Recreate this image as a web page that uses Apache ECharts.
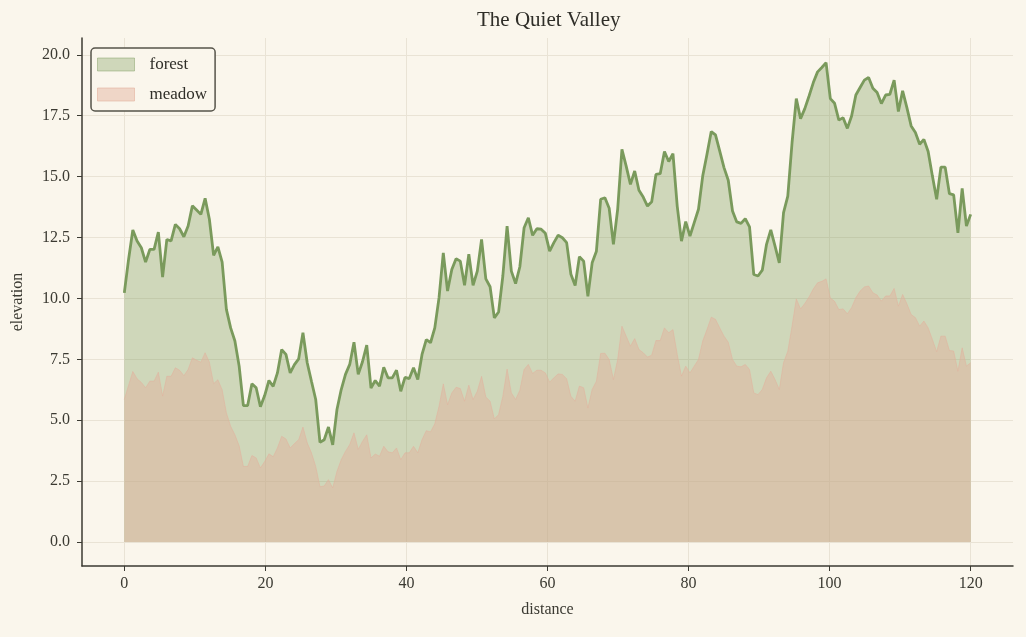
<!DOCTYPE html>
<html>
<head>
<meta charset="utf-8">
<title>The Quiet Valley</title>
<script src="https://cdn.jsdelivr.net/npm/echarts@6/dist/echarts.min.js"></script>
<style>
  html, body {
    margin: 0;
    padding: 0;
    background: #faf6ec;
  }
  #chart {
    width: 1026px;
    height: 637px;
  }
</style>
</head>
<body>
<div id="chart"></div>
<script>
// elevation profiles, 200 samples evenly spaced from 0 to 120
const forest = [
  10.23, 11.6, 12.81, 12.36, 12.08, 11.49, 12.01, 12.01, 12.72, 10.87,
  12.42, 12.36, 13.04, 12.86, 12.53, 12.97, 13.8, 13.63, 13.45, 14.11,
  13.25, 11.77, 12.12, 11.49, 9.55, 8.79, 8.25, 7.22, 5.6, 5.6,
  6.5, 6.33, 5.55, 6.01, 6.63, 6.39, 6.94, 7.9, 7.7, 6.94,
  7.28, 7.52, 8.59, 7.36, 6.6, 5.85, 4.09, 4.2, 4.72, 3.99,
  5.44, 6.26, 6.88, 7.29, 8.2, 6.88, 7.4, 8.08, 6.32, 6.63,
  6.4, 7.17, 6.74, 6.74, 7.05, 6.19, 6.76, 6.71, 7.15, 6.67,
  7.7, 8.31, 8.18, 8.79, 10.03, 11.87, 10.3, 11.19, 11.63, 11.53,
  10.54, 11.81, 10.54, 11.12, 12.42, 10.8, 10.48, 9.2, 9.44, 10.92,
  12.97, 11.12, 10.61, 11.3, 12.9, 13.31, 12.59, 12.86, 12.84, 12.67,
  11.94, 12.29, 12.59, 12.49, 12.29, 10.99, 10.53, 11.71, 11.53, 10.09,
  11.46, 11.94, 14.07, 14.13, 13.7, 12.22, 13.66, 16.12, 15.43, 14.68,
  15.23, 14.44, 14.16, 13.79, 13.97, 15.09, 15.12, 16.03, 15.62, 15.94,
  13.79, 12.35, 13.15, 12.56, 13.11, 13.66, 15.03, 15.92, 16.85, 16.71,
  16.05, 15.37, 14.85, 13.59, 13.14, 13.08, 13.27, 12.94, 10.98, 10.92,
  11.16, 12.22, 12.81, 12.15, 11.46, 13.52, 14.2, 16.39, 18.2, 17.38,
  17.79, 18.31, 18.86, 19.3, 19.48, 19.68, 18.2, 18.01, 17.32, 17.42,
  16.98, 17.49, 18.35, 18.66, 18.96, 19.07, 18.63, 18.45, 18.0, 18.35,
  18.38, 18.96, 17.67, 18.52, 17.83, 17.08, 16.81, 16.33, 16.53, 16.03,
  15.02, 14.07, 15.39, 15.39, 14.3, 14.25, 12.69, 14.52, 12.97, 13.45
];

const meadow = [
  5.85, 6.43, 7.0, 6.7, 6.55, 6.33, 6.6, 6.6, 6.97, 5.99,
  6.8, 6.8, 7.15, 7.05, 6.83, 7.08, 7.56, 7.46, 7.38, 7.77,
  7.38, 6.5, 6.66, 6.25, 5.3, 4.75, 4.4, 3.95, 3.1, 3.1,
  3.55, 3.45, 3.04, 3.3, 3.62, 3.5, 3.86, 4.34, 4.23, 3.86,
  4.04, 4.2, 4.72, 4.07, 3.66, 3.1, 2.27, 2.3, 2.56, 2.22,
  2.9, 3.38, 3.72, 4.0, 4.48, 3.8, 4.13, 4.4, 3.45, 3.61,
  3.52, 3.93, 3.7, 3.66, 3.86, 3.38, 3.66, 3.66, 3.93, 3.66,
  4.2, 4.57, 4.52, 4.85, 5.57, 6.49, 5.64, 6.12, 6.35, 6.3,
  5.78, 6.44, 5.85, 6.19, 6.8, 5.95, 5.78, 5.05, 5.23, 5.98,
  7.1, 6.12, 5.85, 6.23, 7.08, 7.29, 6.92, 7.05, 7.05, 6.94,
  6.56, 6.74, 6.9, 6.88, 6.7, 5.98, 5.78, 6.4, 6.33, 5.5,
  6.26, 6.6, 7.74, 7.75, 7.49, 6.67, 7.49, 8.86, 8.45, 8.04,
  8.35, 7.9, 7.77, 7.59, 7.67, 8.27, 8.27, 8.79, 8.59, 8.72,
  7.7, 6.81, 7.22, 6.94, 7.22, 7.49, 8.25, 8.72, 9.23, 9.14,
  8.79, 8.45, 8.2, 7.49, 7.22, 7.19, 7.29, 7.08, 6.12, 6.05,
  6.26, 6.74, 7.01, 6.67, 6.26, 7.36, 7.83, 8.86, 9.98, 9.57,
  9.79, 10.06, 10.39, 10.64, 10.7, 10.8, 10.02, 9.88, 9.54, 9.57,
  9.37, 9.62, 10.03, 10.3, 10.47, 10.51, 10.23, 10.14, 9.89, 10.1,
  10.1, 10.41, 9.68, 10.16, 9.78, 9.34, 9.21, 8.86, 9.07, 8.79,
  8.31, 7.81, 8.45, 8.45, 7.86, 7.84, 7.01, 7.97, 7.22, 7.36
];

const distance = forest.map((_, i) => +(i * 120 / (forest.length - 1)).toFixed(3));

const xTicks = [0, 20, 40, 60, 80, 100, 120];
const yTicks = [0, 2.5, 5, 7.5, 10, 12.5, 15, 17.5, 20];

const FONT = '"Liberation Serif", "DejaVu Serif", serif';
const INK = '#3b3a32';
const GRID = '#e9e3d5';

const chart = echarts.init(document.getElementById('chart'));

const option = {
  backgroundColor: '#faf6ec',
  animation: false,
  textStyle: { fontFamily: FONT },
  title: {
    text: 'The Quiet Valley',
    left: 477,
    top: 10,
    padding: 0,
    textStyle: {
      fontFamily: FONT,
      fontSize: 21,
      fontWeight: 'normal',
      color: '#2f2e28'
    }
  },
  legend: {
    orient: 'vertical',
    left: 91,
    top: 48,
    padding: [8, 8, 8, 6],
    itemWidth: 37,
    itemHeight: 13,
    itemGap: 13,
    backgroundColor: '#faf6ec',
    borderColor: '#56544a',
    borderWidth: 1.5,
    borderRadius: 4,
    textStyle: {
      fontFamily: FONT,
      fontSize: 17,
      color: '#2f2e28',
      padding: [0, 0, 0, 10]
    },
    data: [
      {
        name: 'forest',
        icon: 'rect',
        itemStyle: {
          color: 'rgba(122,154,92,0.34)',
          borderColor: 'rgba(122,154,92,0.45)',
          borderWidth: 1
        }
      },
      {
        name: 'meadow',
        icon: 'rect',
        itemStyle: {
          color: 'rgba(227,176,156,0.45)',
          borderColor: 'rgba(227,176,156,0.6)',
          borderWidth: 1
        }
      }
    ]
  },
  grid: {
    left: 82,
    right: 13,
    top: 38,
    bottom: 71,
    containLabel: false
  },
  xAxis: {
    type: 'value',
    min: -6,
    max: 126,
    name: 'distance',
    nameLocation: 'middle',
    nameGap: 36,
    nameTextStyle: { fontFamily: FONT, fontSize: 16, color: INK },
    axisLine: { show: true, onZero: false, lineStyle: { color: INK, width: 1.5 } },
    axisTick: {
      show: true,
      length: 5,
      customValues: xTicks,
      lineStyle: { color: INK, width: 1 }
    },
    axisLabel: {
      customValues: xTicks,
      margin: 10,
      fontFamily: FONT,
      fontSize: 16,
      color: INK
    },
    splitLine: { show: true, lineStyle: { color: GRID, width: 1 } }
  },
  yAxis: {
    type: 'value',
    min: -0.985,
    max: 20.69,
    name: 'elevation',
    nameLocation: 'middle',
    nameGap: 56,
    nameRotate: 90,
    nameTextStyle: { fontFamily: FONT, fontSize: 16, color: INK },
    axisLine: { show: true, onZero: false, lineStyle: { color: INK, width: 1.5 } },
    axisTick: {
      show: true,
      length: 5,
      customValues: yTicks,
      lineStyle: { color: INK, width: 1 }
    },
    axisLabel: {
      customValues: yTicks,
      margin: 12,
      fontFamily: FONT,
      fontSize: 16,
      color: INK,
      formatter: v => v.toFixed(1)
    },
    splitLine: { show: true, lineStyle: { color: GRID, width: 1 } }
  },
  series: [
    {
      name: 'forest',
      type: 'line',
      data: distance.map((x, i) => [x, forest[i]]),
      showSymbol: false,
      symbol: 'none',
      lineStyle: { color: '#7a9a5c', width: 2.8 },
      itemStyle: { color: '#7a9a5c' },
      areaStyle: { color: '#7a9a5c', opacity: 0.34 }
    },
    {
      name: 'meadow',
      type: 'line',
      data: distance.map((x, i) => [x, meadow[i]]),
      showSymbol: false,
      symbol: 'none',
      lineStyle: { color: 'rgba(227,176,156,0.5)', width: 1 },
      itemStyle: { color: '#e3b09c' },
      areaStyle: { color: '#e3b09c', opacity: 0.45 }
    }
  ]
};

chart.setOption(option);
</script>
</body>
</html>
